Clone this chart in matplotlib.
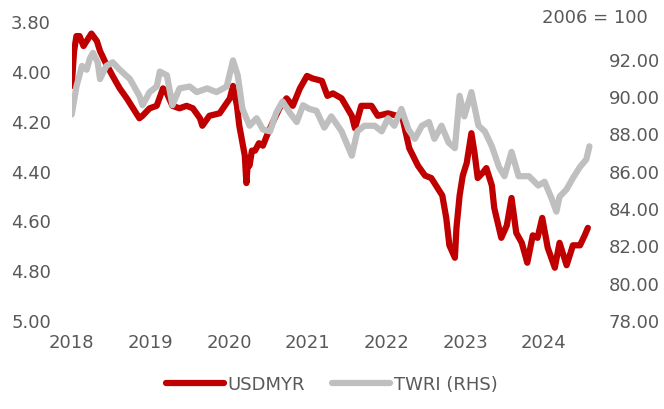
import numpy as np
import matplotlib
matplotlib.use("Agg")
import matplotlib.pyplot as plt

# USDMYR (left axis, inverted)
usd_t = [2018.00, 2018.03, 2018.06, 2018.10, 2018.15, 2018.19, 2018.25, 2018.32, 2018.36, 2018.42, 2018.52, 2018.61,
         2018.70, 2018.78, 2018.86, 2018.90, 2018.99, 2019.08, 2019.16, 2019.21, 2019.28, 2019.37,
         2019.46, 2019.54, 2019.63, 2019.66, 2019.75, 2019.88, 2020.01, 2020.05, 2020.10, 2020.13,
         2020.20, 2020.22, 2020.24, 2020.26, 2020.29, 2020.33, 2020.38, 2020.43, 2020.48, 2020.55, 2020.64, 2020.73, 2020.81,
         2020.90, 2020.99, 2021.06, 2021.18, 2021.25, 2021.32, 2021.43, 2021.56, 2021.60, 2021.68,
         2021.81, 2021.89, 2022.02, 2022.13, 2022.19, 2022.29, 2022.40, 2022.49, 2022.57, 2022.65,
         2022.71, 2022.76, 2022.80, 2022.87, 2022.89, 2022.93, 2022.97, 2023.02, 2023.08, 2023.12,
         2023.16, 2023.22, 2023.27, 2023.34, 2023.37, 2023.46, 2023.53, 2023.59, 2023.65, 2023.72,
         2023.79, 2023.86, 2023.92, 2023.98, 2024.05, 2024.14, 2024.20, 2024.29, 2024.37, 2024.46,
         2024.52, 2024.56]
usd = [4.06, 3.92, 3.86, 3.86, 3.90, 3.88, 3.85, 3.88, 3.92, 3.96, 4.02, 4.07,
       4.11, 4.15, 4.19, 4.18, 4.15, 4.14, 4.07, 4.09, 4.14, 4.15,
       4.14, 4.15, 4.19, 4.22, 4.18, 4.17, 4.11, 4.06, 4.14, 4.22,
       4.34, 4.45, 4.36, 4.38, 4.32, 4.32, 4.29, 4.30, 4.26, 4.21, 4.15, 4.11, 4.14,
       4.07, 4.02, 4.03, 4.04, 4.10, 4.09, 4.11, 4.18, 4.23, 4.14,
       4.14, 4.18, 4.17, 4.18, 4.17, 4.31, 4.38, 4.42, 4.43, 4.47,
       4.50, 4.59, 4.70, 4.75, 4.63, 4.50, 4.42, 4.37, 4.25, 4.33,
       4.43, 4.41, 4.39, 4.46, 4.55, 4.67, 4.62, 4.51, 4.65, 4.69,
       4.77, 4.66, 4.67, 4.59, 4.71, 4.79, 4.69, 4.78, 4.70, 4.70,
       4.66, 4.63]

# TWRI (right axis)
twri_t = [2018.00, 2018.06, 2018.13, 2018.19, 2018.23, 2018.27, 2018.33, 2018.36, 2018.44, 2018.52,
          2018.61, 2018.74, 2018.86, 2018.90, 2018.99, 2019.08, 2019.12, 2019.21, 2019.28, 2019.37,
          2019.50, 2019.59, 2019.72, 2019.84, 2019.97, 2020.05, 2020.11, 2020.17, 2020.26, 2020.35,
          2020.43, 2020.52, 2020.60, 2020.68, 2020.77, 2020.86, 2020.94, 2021.02, 2021.11, 2021.21,
          2021.30, 2021.43, 2021.56, 2021.63, 2021.72, 2021.85, 2021.94, 2022.02, 2022.10, 2022.19,
          2022.28, 2022.36, 2022.45, 2022.54, 2022.61, 2022.70, 2022.79, 2022.87, 2022.93, 2022.99,
          2023.08, 2023.17, 2023.25, 2023.34, 2023.43, 2023.50, 2023.59, 2023.68, 2023.81, 2023.93,
          2024.01, 2024.10, 2024.16, 2024.20, 2024.29, 2024.37, 2024.46, 2024.54, 2024.58]
twri = [89.0, 90.5, 91.6, 91.4, 92.0, 92.3, 91.8, 90.9, 91.6, 91.8,
        91.4, 90.9, 90.0, 89.5, 90.2, 90.5, 91.3, 91.1, 89.5, 90.4,
        90.5, 90.2, 90.4, 90.2, 90.5, 91.9, 91.1, 89.3, 88.4, 88.8,
        88.2, 88.1, 89.1, 89.7, 89.1, 88.6, 89.5, 89.3, 89.2, 88.3,
        88.9, 88.1, 86.8, 88.1, 88.4, 88.4, 88.1, 88.8, 88.4, 89.3,
        88.2, 87.7, 88.4, 88.6, 87.7, 88.4, 87.5, 87.2, 90.0, 88.9,
        90.2, 88.4, 88.1, 87.3, 86.2, 85.7, 87.0, 85.7, 85.7, 85.2,
        85.4, 84.5, 83.8, 84.6, 85.0, 85.6, 86.2, 86.6, 87.3]

years = [2018, 2019, 2020, 2021, 2022, 2023, 2024]
left_ticks = [3.8, 4.0, 4.2, 4.4, 4.6, 4.8, 5.0]
right_ticks = [78, 80, 82, 84, 86, 88, 90, 92]

red = "#C00000"
grey = "#BFBFBF"
txt = "#595959"
fs = 13

fig = plt.figure(figsize=(6.64, 4.10), dpi=100)
ax = fig.add_axes([0.108, 0.217, 0.788, 0.729])
ax2 = ax.twinx()

l1, = ax.plot(usd_t, usd, color=red, lw=4.5, solid_capstyle="round", label="USDMYR")
l2, = ax2.plot(twri_t, twri, color=grey, lw=4.5, solid_capstyle="round", label="TWRI (RHS)")

ax.set_xlim(2018, 2024.65)
ax.set_ylim(5.0, 3.8)
ax2.set_ylim(78, 94)

ax.set_xticks(years)
ax.set_xticklabels([str(y) for y in years])
ax.set_yticks(left_ticks)
ax.set_yticklabels(["%.2f" % v for v in left_ticks])
ax2.set_yticks(right_ticks)
ax2.set_yticklabels(["%.2f" % v for v in right_ticks])

for a in (ax, ax2):
    for s in a.spines.values():
        s.set_visible(False)
    a.tick_params(length=0, colors=txt, labelsize=fs)
ax.tick_params(axis="y", pad=15)
ax.tick_params(axis="x", pad=9)
ax2.tick_params(axis="y", pad=10)

fig.text(0.975, 0.955, "2006 = 100", ha="right", va="center", color=txt, fontsize=fs)

fig.legend([l1, l2], ["USDMYR", "TWRI (RHS)"], loc="center", bbox_to_anchor=(0.5, 0.061),
           ncol=2, frameon=False, fontsize=fs, labelcolor=txt, handlelength=3.2,
           handletextpad=0.2, columnspacing=1.5)

fig.savefig("out.png", dpi=100)
